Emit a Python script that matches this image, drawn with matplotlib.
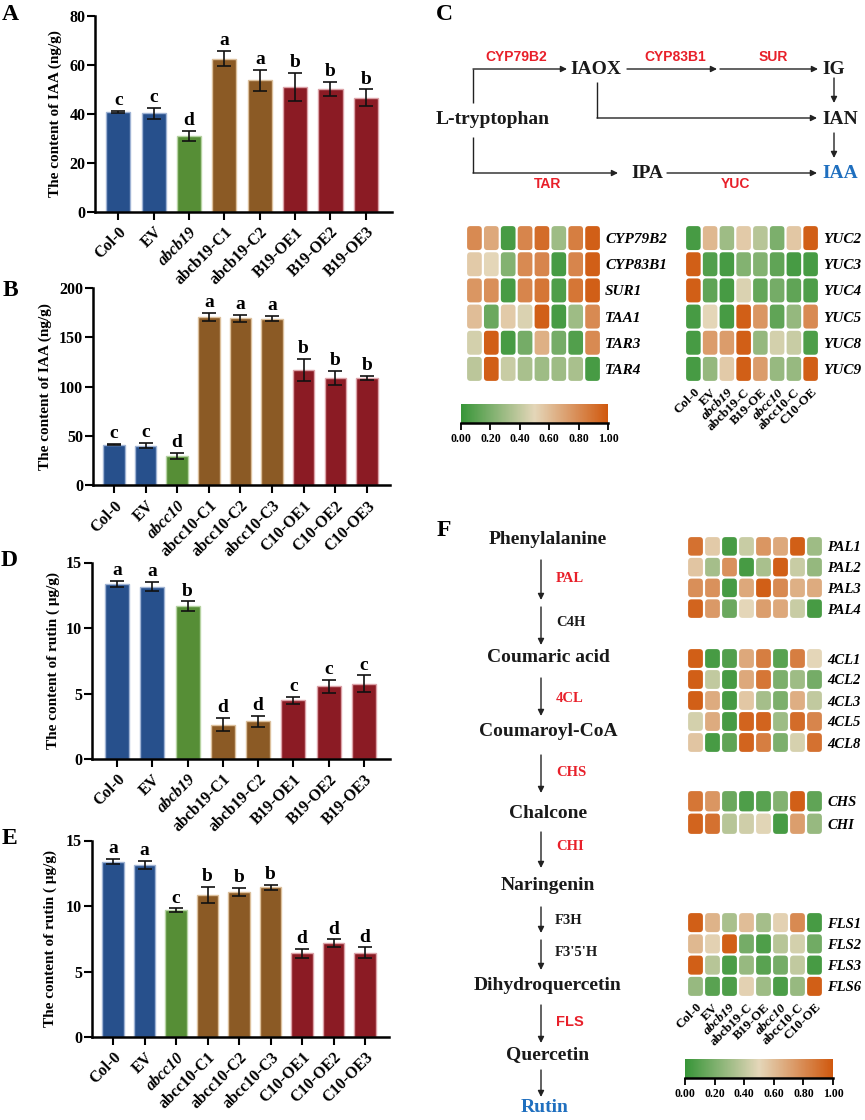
import numpy as np
import matplotlib
matplotlib.use("Agg")
import matplotlib.pyplot as plt
from matplotlib.colors import LinearSegmentedColormap, Normalize
from matplotlib.cm import ScalarMappable
from matplotlib.patches import FancyBboxPatch

plt.rcParams['font.family'] = ['Liberation Serif', 'DejaVu Serif']
plt.rcParams['font.weight'] = 'bold'

# ---- data -------------------------------------------------------------
lines_b19 = ['Col-0', 'EV', 'abcb19', 'abcb19-C1', 'abcb19-C2', 'B19-OE1', 'B19-OE2', 'B19-OE3']
groups_b19 = ['wt', 'wt', 'mut', 'comp', 'comp', 'oe', 'oe', 'oe']
lines_c10 = ['Col-0', 'EV', 'abcc10', 'abcc10-C1', 'abcc10-C2', 'abcc10-C3', 'C10-OE1', 'C10-OE2', 'C10-OE3']
groups_c10 = ['wt', 'wt', 'mut', 'comp', 'comp', 'comp', 'oe', 'oe', 'oe']

iaa_b19 = [40.8, 40.1, 30.9, 62.4, 53.6, 50.9, 50.1, 46.6]
iaa_b19_err = [0.4, 2.4, 2.0, 3.1, 4.3, 5.6, 2.7, 3.3]
iaa_b19_sig = ['c', 'c', 'd', 'a', 'a', 'b', 'b', 'b']

iaa_c10 = [41.0, 40.2, 30.1, 170.3, 169.5, 169.0, 116.9, 108.4, 108.8]
iaa_c10_err = [0.5, 2.5, 3.0, 4.0, 3.5, 2.8, 11.0, 7.2, 2.3]
iaa_c10_sig = ['c', 'c', 'd', 'a', 'a', 'a', 'b', 'b', 'b']

rutin_b19 = [13.36, 13.16, 11.68, 2.62, 2.88, 4.48, 5.55, 5.73]
rutin_b19_err = [0.25, 0.35, 0.35, 0.5, 0.4, 0.25, 0.5, 0.65]
rutin_b19_sig = ['a', 'a', 'b', 'd', 'd', 'c', 'c', 'c']

rutin_c10 = [13.38, 13.15, 9.69, 10.84, 11.09, 11.43, 6.39, 7.15, 6.44]
rutin_c10_err = [0.2, 0.3, 0.12, 0.6, 0.3, 0.2, 0.35, 0.3, 0.4]
rutin_c10_sig = ['a', 'a', 'c', 'b', 'b', 'b', 'd', 'd', 'd']

heat_cols = ['Col-0', 'EV', 'abcb19', 'abcb19-C', 'B19-OE', 'abcc10', 'abcc10-C', 'C10-OE']

trp_genes = ['CYP79B2', 'CYP83B1', 'SUR1', 'TAA1', 'TAR3', 'TAR4']
trp_heat = [
    [0.80, 0.68, 0.05, 0.82, 0.92, 0.30, 0.85, 0.97],
    [0.55, 0.50, 0.22, 0.80, 0.82, 0.05, 0.82, 0.97],
    [0.75, 0.78, 0.05, 0.82, 0.88, 0.07, 0.88, 0.97],
    [0.60, 0.15, 0.55, 0.47, 0.97, 0.05, 0.30, 0.80],
    [0.45, 0.97, 0.05, 0.18, 0.65, 0.18, 0.08, 0.80],
    [0.38, 0.97, 0.42, 0.33, 0.30, 0.30, 0.33, 0.05],
]
yuc_genes = ['YUC2', 'YUC3', 'YUC4', 'YUC5', 'YUC8', 'YUC9']
yuc_heat = [
    [0.05, 0.62, 0.30, 0.55, 0.37, 0.20, 0.56, 0.97],
    [0.97, 0.08, 0.05, 0.22, 0.22, 0.12, 0.05, 0.05],
    [0.97, 0.12, 0.05, 0.47, 0.13, 0.18, 0.12, 0.07],
    [0.05, 0.50, 0.05, 0.97, 0.75, 0.12, 0.27, 0.80],
    [0.05, 0.73, 0.73, 0.97, 0.27, 0.45, 0.42, 0.07],
    [0.05, 0.27, 0.55, 0.97, 0.73, 0.28, 0.28, 0.97],
]
pal_genes = ['PAL1', 'PAL2', 'PAL3', 'PAL4']
pal_heat = [
    [0.90, 0.55, 0.05, 0.42, 0.75, 0.68, 0.97, 0.30],
    [0.57, 0.32, 0.77, 0.05, 0.33, 0.97, 0.42, 0.27],
    [0.78, 0.77, 0.05, 0.68, 0.97, 0.80, 0.65, 0.67],
    [0.95, 0.74, 0.15, 0.50, 0.72, 0.68, 0.42, 0.05],
]
cl_genes = ['4CL1', '4CL2', '4CL3', '4CL5', '4CL8']
cl_heat = [
    [0.97, 0.05, 0.08, 0.68, 0.85, 0.10, 0.85, 0.50],
    [0.97, 0.40, 0.05, 0.68, 0.88, 0.20, 0.30, 0.18],
    [0.97, 0.67, 0.05, 0.56, 0.32, 0.20, 0.66, 0.40],
    [0.45, 0.67, 0.05, 0.95, 0.95, 0.30, 0.92, 0.82],
    [0.57, 0.05, 0.12, 0.95, 0.85, 0.20, 0.46, 0.90],
]
chs_genes = ['CHS', 'CHI']
chs_heat = [
    [0.88, 0.75, 0.15, 0.07, 0.10, 0.22, 0.97, 0.12],
    [0.95, 0.90, 0.37, 0.44, 0.49, 0.05, 0.72, 0.28],
]
fls_genes = ['FLS1', 'FLS2', 'FLS3', 'FLS6']
fls_heat = [
    [0.97, 0.64, 0.33, 0.60, 0.32, 0.52, 0.80, 0.05],
    [0.62, 0.52, 0.97, 0.18, 0.07, 0.37, 0.45, 0.17],
    [0.97, 0.37, 0.06, 0.28, 0.10, 0.18, 0.40, 0.05],
    [0.28, 0.10, 0.07, 0.52, 0.30, 0.06, 0.28, 0.97],
]
cbar_ticks = [0.0, 0.2, 0.4, 0.6, 0.8, 1.0]

# ---- style -------------------------------------------------------------
fill = {'wt': '#27508c', 'mut': '#568e36', 'comp': '#8b5a25', 'oe': '#8b1b24'}
edge = {'wt': '#9fb3d4', 'mut': '#b6d3a2', 'comp': '#dcc09c', 'oe': '#dca2a8'}
RED = '#e8202a'
BLUE = '#1f6fbf'
INK = '#1a1a1a'
cmap = LinearSegmentedColormap.from_list('gbo', ['#379538', '#e4d6b9', '#d0580e'])
norm = Normalize(0, 1)

W, H = 865, 1120
fig = plt.figure(figsize=(W / 100, H / 100), dpi=100)


def px_axes(x0, y0, x1, y1, **kw):
    return fig.add_axes([x0 / W, 1 - y1 / H, (x1 - x0) / W, (y1 - y0) / H], **kw)


def bar_panel(box, names, groups, vals, errs, sig, ymax, yticks, xlim, ylabel, label_x):
    ax = px_axes(*box)
    x = np.arange(len(vals))
    ax.bar(x, vals, width=0.68, color=[fill[g] for g in groups],
           edgecolor=[edge[g] for g in groups], linewidth=1.0, zorder=2)
    ax.errorbar(x, vals, yerr=errs, fmt='none', ecolor='#111111', elinewidth=1.2,
                capsize=5, capthick=1.2, zorder=3)
    for xi, v, e, s in zip(x, vals, errs, sig):
        ax.text(xi, v + e + ymax * 0.03, s, ha='center', va='baseline', fontsize=14)
    ax.set_xlim(*xlim)
    ax.set_ylim(0, ymax)
    ax.set_yticks(yticks)
    ax.set_xticks(x)
    ax.set_xticklabels(names, rotation=45, ha='right', rotation_mode='anchor', fontsize=11.5)
    for i, lab in enumerate(ax.get_xticklabels()):
        if groups[i] == 'mut':
            lab.set_fontstyle('italic')
    ax.tick_params(axis='y', labelsize=11.5, length=6, width=1.5, pad=1)
    ax.tick_params(axis='x', length=6, width=1.5, pad=3)
    for s in ['top', 'right']:
        ax.spines[s].set_visible(False)
    for s in ['left', 'bottom']:
        ax.spines[s].set_linewidth(1.8)
    ax.text((label_x - box[0]) / (box[2] - box[0]), 0.5, ylabel, transform=ax.transAxes,
            rotation=90, ha='center', va='center', fontsize=11)
    return ax


bar_panel((95, 15.7, 392, 211.7), lines_b19, groups_b19, iaa_b19, iaa_b19_err, iaa_b19_sig,
          80, [0, 20, 40, 60, 80], (-0.66, 7.74), 'The content of IAA (ng/g)', 55)
bar_panel((93, 288, 390, 485.3), lines_c10, groups_c10, iaa_c10, iaa_c10_err, iaa_c10_sig,
          200, [0, 50, 100, 150, 200], (-0.66, 8.73), 'The content of IAA (ng/g)', 45)
bar_panel((92, 562.5, 390, 759), lines_b19, groups_b19, rutin_b19, rutin_b19_err, rutin_b19_sig,
          15, [0, 5, 10, 15], (-0.71, 7.74), 'The content of rutin ( \u03bcg/g)', 53)
bar_panel((92, 840.5, 389, 1037), lines_c10, groups_c10, rutin_c10, rutin_c10_err, rutin_c10_sig,
          15, [0, 5, 10, 15], (-0.67, 8.76), 'The content of rutin ( \u03bcg/g)', 50)


def heat_block(box, data, rows, cols=None, rowsize=10.5):
    ax = px_axes(*box)
    data = np.asarray(data)
    nr, nc = data.shape
    cw = (box[2] - box[0]) / nc
    ch = (box[3] - box[1]) / nr
    gx, gy = 1.1 / cw, 1.1 / ch
    for i in range(nr):
        for j in range(nc):
            ax.add_patch(FancyBboxPatch((j + gx, i + gy), 1 - 2 * gx, 1 - 2 * gy,
                                        boxstyle='round,pad=0,rounding_size=0.2',
                                        mutation_aspect=cw / ch,
                                        fc=cmap(norm(data[i, j])), ec='none'))
    ax.set_xlim(0, nc)
    ax.set_ylim(nr, 0)
    for s in ax.spines.values():
        s.set_visible(False)
    ax.yaxis.tick_right()
    ax.set_yticks(np.arange(nr) + 0.5)
    ax.set_yticklabels(rows, fontstyle='italic', fontsize=rowsize)
    ax.tick_params(axis='y', length=0, pad=3)
    if cols is None:
        ax.set_xticks([])
    else:
        ax.set_xticks(np.arange(nc) + 0.5)
        ax.set_xticklabels(cols, rotation=45, ha='right', rotation_mode='anchor', fontsize=9.5)
        for lab in ax.get_xticklabels():
            if lab.get_text() in ('abcb19', 'abcc10'):
                lab.set_fontstyle('italic')
        ax.tick_params(axis='x', length=0, pad=3)
    return ax


def cbar(box):
    cax = px_axes(*box)
    cb = fig.colorbar(ScalarMappable(norm=norm, cmap=cmap), cax=cax, orientation='horizontal')
    cb.outline.set_visible(False)
    cb.set_ticks(cbar_ticks)
    cb.set_ticklabels(['%.2f' % t for t in cbar_ticks])
    cax.tick_params(axis='x', direction='out', length=5, width=1.3, color='k', labelsize=8.5, pad=2)
    cax.plot([0, 1], [0, 0], transform=cax.transAxes, color='k', lw=1.8, clip_on=False)


heat_block((466, 225, 601, 382), trp_heat, trp_genes, rowsize=11)
heat_block((685, 225, 819, 382), yuc_heat, yuc_genes, heat_cols, rowsize=11)
cbar((461, 404, 608, 423))

heat_block((687, 536, 823, 619), pal_heat, pal_genes)
heat_block((687, 648, 823, 753), cl_heat, cl_genes)
heat_block((687, 790, 823, 835), chs_heat, chs_genes)
heat_block((687, 912, 823, 997), fls_heat, fls_genes, heat_cols)
cbar((685, 1059, 833, 1078))

# ---- pathway diagrams on a pixel overlay ------------------------------
ov = fig.add_axes([0, 0, 1, 1], zorder=-1)
ov.set_xlim(0, W)
ov.set_ylim(H, 0)
ov.axis('off')


def arrow(x0, y0, x1, y1):
    ov.annotate('', xy=(x1, y1), xytext=(x0, y0),
                arrowprops=dict(arrowstyle='-|>', color='#222222', lw=1.0,
                                mutation_scale=9, shrinkA=0, shrinkB=0))


def seg(xs, ys):
    ov.plot(xs, ys, color='#222222', lw=1.0, solid_capstyle='butt')


def node(x, y, s, color=INK, ha='center', size=14):
    ov.text(x, y, s, ha=ha, va='center', fontsize=size, color=color)


def enz(x, y, s, color=RED, ha='center', sans=True, size=10):
    fam = ['Liberation Sans', 'DejaVu Sans'] if sans else ['Liberation Serif', 'DejaVu Serif']
    ov.text(x, y, s, ha=ha, va='center', fontsize=size, color=color, family=fam)


for letter, (lx, ly) in {'A': (10, 14), 'B': (10, 290), 'C': (444, 14),
                         'D': (9, 560), 'E': (9, 838), 'F': (444, 530)}.items():
    ov.text(lx, ly, letter, ha='center', va='center', fontsize=17)

# C: tryptophan -> IAA
node(493, 119, 'L-tryptophan')
seg([473, 473], [103, 69])
arrow(473, 69, 567, 69)
enz(516, 57, 'CYP79B2')
node(596, 69, 'IAOX')
arrow(627, 69, 717, 69)
enz(675, 57, 'CYP83B1')
arrow(720, 69, 818, 69)
enz(773, 57, 'SUR')
node(822, 69, 'IG', ha='left')
arrow(834, 78, 834, 103)
node(822, 119, 'IAN', ha='left')
seg([597, 597], [82, 118])
arrow(597, 118, 817, 118)
arrow(834, 133, 834, 158)
node(822, 173, 'IAA', color=BLUE, ha='left')
seg([473, 473], [137, 173])
arrow(473, 173, 618, 173)
enz(548, 184, 'TAR')
node(647, 173, 'IPA')
arrow(667, 173, 817, 173)
enz(735, 184, 'YUC')

# F: phenylpropanoid -> rutin
for name, y in [('Phenylalanine', 540), ('Coumaric acid', 658), ('Coumaroyl-CoA', 732),
                ('Chalcone', 813), ('Naringenin', 885), ('Dihydroquercetin', 985),
                ('Quercetin', 1055)]:
    node(548, y, name)
node(545, 1108, 'Rutin', color=BLUE)
for y0, y1 in [(560, 600), (607, 645), (678, 716), (755, 793), (832, 868),
               (907, 933), (940, 970), (1005, 1043), (1070, 1097)]:
    arrow(541, y0, 541, y1)
enz(556, 578, 'PAL', ha='left', sans=False, size=10.5)
enz(556, 623, 'C4H', color=INK, ha='left', sans=False, size=10.5)
enz(556, 698, '4CL', ha='left', sans=False, size=10.5)
enz(556, 773, 'CHS', ha='left', sans=False, size=10.5)
enz(556, 847, 'CHI', ha='left', sans=False, size=10.5)
enz(555, 920, 'F3H', color=INK, ha='left', sans=False, size=10.5)
enz(555, 952, "F3'5'H", color=INK, ha='left', sans=False, size=10.5)
enz(556, 1022, 'FLS', ha='left', size=10.5)

fig.savefig('out.png', dpi=100)
